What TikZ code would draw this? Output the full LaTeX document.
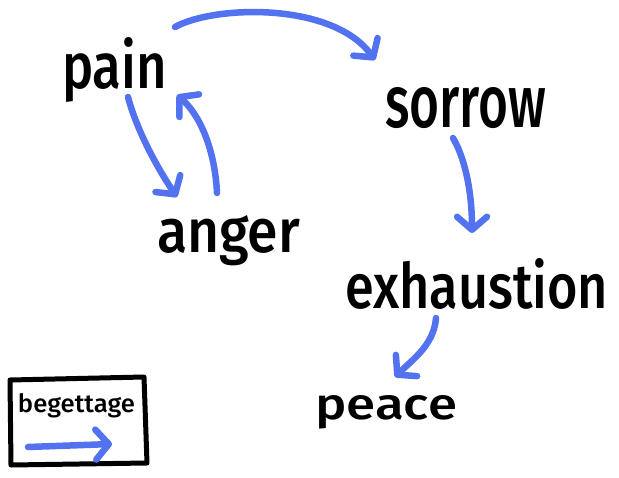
\documentclass[tikz,border=0pt]{standalone}
\usepackage{fontspec}
\setmainfont{Fira Sans}
\newfontfamily\handfont{Fira Sans Medium}
\usetikzlibrary{arrows.meta}
\definecolor{pen}{RGB}{82,114,240}
\tikzset{
  word/.style={inner sep=0pt, outer sep=0pt, anchor=base west, font=\handfont},
  link/.style={draw=pen, line width=6.5pt, line cap=round,
    -{Straight Barb[round, length=13pt, width=30pt]}},
  frame/.style={draw=black, line width=5pt, line join=round}
}
\begin{document}
\begin{tikzpicture}[x=1pt, y=-1pt]
\useasboundingbox (0,0) rectangle (619,477);
% words
\node[word] (pain) at (62,88) {\resizebox{105pt}{51pt}{pain}};
\node[word] (sorrow) at (385,127) {\resizebox{161pt}{40pt}{sorrow}};
\node[word] (anger) at (157,252) {\resizebox{143pt}{37pt}{anger}};
\node[word] (exhaustion) at (345,308) {\resizebox{263pt}{50pt}{exhaustion}};
\node[word] (peace) at (315,419) {\resizebox{142pt}{24pt}{peace}};
% connectors
\draw[link] ([shift={(113,-61)}]pain.base west) .. controls (215,5) and (333,2) .. ([shift={(-10,-67)}]sorrow.base west);
\draw[link] ([shift={(66,9)}]pain.base west) .. controls (138,135) and (162,175) .. ([shift={(20,-55)}]anger.base west);
\draw[link] ([shift={(60,-59)}]anger.base west) .. controls (215,150) and (200,115) .. ([shift={(115,7)}]pain.base west);
\draw[link] ([shift={(68,11)}]sorrow.base west) .. controls (466,160) and (472,195) .. ([shift={(127,-75)}]exhaustion.base west);
\draw[link] ([shift={(91,10)}]exhaustion.base west) .. controls (434,345) and (412,360) .. ([shift={(80,-42)}]peace.base west);
% legend
\draw[frame] (10,380) -- (144,377) -- (147,463) -- (11,465) -- cycle;
\node[word] (key) at (18,412) {\resizebox{117pt}{19pt}{begettage}};
\coordinate (keyA) at (28,447);
\coordinate (keyB) at (112,444);
\draw[link] (keyA) -- (keyB);
\end{tikzpicture}
\end{document}
